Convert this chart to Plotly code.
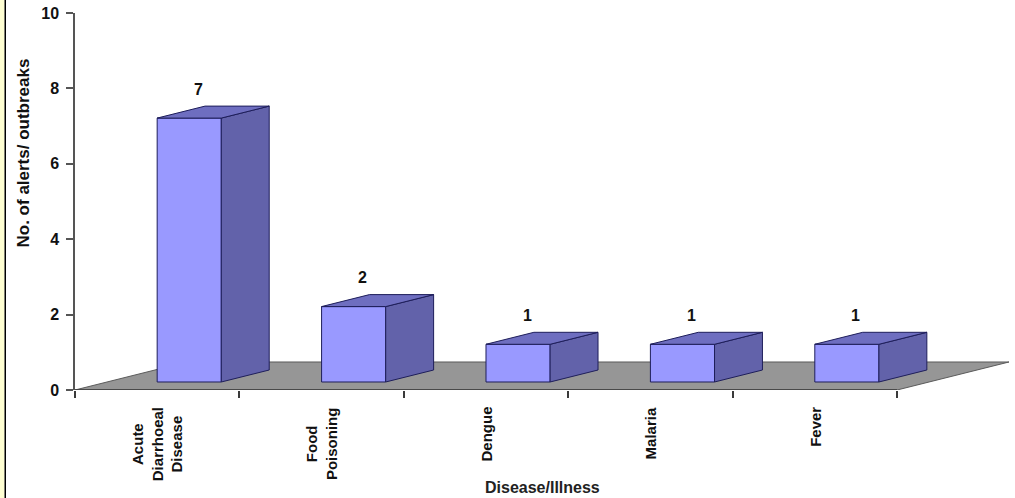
import plotly.graph_objects as go

# ---- data ----
categories = ["Acute<br>Diarrhoeal<br>Disease", "Food<br>Poisoning", "Dengue", "Malaria", "Fever"]
values = [7, 2, 1, 1, 1]
y_ticks = [0, 2, 4, 6, 8, 10]
x_title = "Disease/Illness"
y_title = "No. of alerts/ outbreaks"

# ---- style / 3D geometry constants ----
FONT = "Liberation Sans, Arial, sans-serif"
FRONT = "#9999FF"
SIDE = "#6262AA"
TOP = "#6E6EC0"
EDGE = "#1E1E5A"
FLOOR = "#969696"
D_X, D_Y = 0.681, 0.743      # floor depth offset (data units)
T0, T1 = 0.286, 0.714        # bar front / back depth fractions
HW = 0.195                   # bar half-width
X_MIN, X_MAX = -0.5, 5.187
n = len(values)

fx, fy = T0 * D_X, T0 * D_Y
bx, by = T1 * D_X, T1 * D_Y

fig = go.Figure()

# front faces as bars
fig.add_trace(go.Bar(
    x=[i + fx for i in range(n)], y=values, base=fy, width=2 * HW,
    marker=dict(color=FRONT, line=dict(color=EDGE, width=1)),
    hoverinfo="skip", showlegend=False,
))

# side and top faces
for i, v in enumerate(values):
    xl, xr = i + fx - HW, i + fx + HW
    xbl, xbr = i + bx - HW, i + bx + HW
    top_f, top_b = v + fy, v + by
    fig.add_trace(go.Scatter(
        x=[xr, xbr, xbr, xr, xr], y=[top_f, top_b, by, fy, top_f],
        mode="lines", fill="toself", fillcolor=SIDE,
        line=dict(color=EDGE, width=1), hoverinfo="skip", showlegend=False,
    ))
    fig.add_trace(go.Scatter(
        x=[xl, xr, xbr, xbl, xl], y=[top_f, top_f, top_b, top_b, top_f],
        mode="lines", fill="toself", fillcolor=TOP,
        line=dict(color=EDGE, width=1), hoverinfo="skip", showlegend=False,
    ))

shapes = []
# floor
x0, x1 = -0.5, n - 0.5
shapes.append(dict(
    type="path", xref="x", yref="y", layer="below",
    path=f"M {x0},0 L {x1},0 L {x1 + D_X},{D_Y} L {x0 + D_X},{D_Y} Z",
    fillcolor=FLOOR, line=dict(color="#5a5a5a", width=1),
))
# x axis line (category span only)
shapes.append(dict(type="line", xref="x", yref="y", x0=x0, x1=x1, y0=0, y1=0,
                   line=dict(color="#3a3a3a", width=1.5), layer="above"))
# left border strip
shapes.append(dict(type="rect", xref="paper", yref="paper", xsizemode="pixel", ysizemode="pixel",
                   xanchor=0, yanchor=0, x0=-75, x1=-70.5, y0=-120, y1=420,
                   fillcolor="#FFFFD2", line=dict(width=0), layer="below"))
shapes.append(dict(type="rect", xref="paper", yref="paper", xsizemode="pixel", ysizemode="pixel",
                   xanchor=0, yanchor=0, x0=-70.5, x1=-69, y0=-120, y1=420,
                   fillcolor="#000000", line=dict(width=0), layer="below"))

annotations = []
# value labels
for i, v in enumerate(values):
    annotations.append(dict(
        x=i + 0.25, y=v + 0.98, xref="x", yref="y", text=str(v), showarrow=False,
        xanchor="center", yanchor="middle",
        font=dict(family=FONT, size=16, color="#111111", weight="bold"),
    ))
# category labels
for i, c in enumerate(categories):
    annotations.append(dict(
        x=i, y=0, xref="x", yref="y", text=c, showarrow=False, textangle=-90,
        xanchor="center", yanchor="top", yshift=-15, align="center",
        font=dict(family=FONT, size=15, color="#111111", weight="bold"),
    ))
# axis titles
annotations.append(dict(
    x=0, y=0.5, xref="paper", yref="paper", xshift=-52, yshift=48, text=y_title, showarrow=False,
    textangle=-90, xanchor="center", yanchor="middle",
    font=dict(family=FONT, size=17, color="#111111", weight="bold"),
))
annotations.append(dict(
    x=(542 - 75) / 935, y=0, xref="paper", yref="paper", yshift=-97, text=x_title,
    showarrow=False, xanchor="center", yanchor="middle",
    font=dict(family=FONT, size=16, color="#222222", weight="bold"),
))

fig.update_layout(
    width=1015, height=498,
    margin=dict(l=75, r=5, t=13, b=108),
    paper_bgcolor="white", plot_bgcolor="white",
    showlegend=False, barmode="overlay",
    shapes=shapes, annotations=annotations,
    xaxis=dict(range=[X_MIN, X_MAX], tickvals=[k - 0.5 for k in range(n + 1)],
               ticks="outside", ticklen=7, tickwidth=1.5, tickcolor="#3a3a3a",
               showticklabels=False, showgrid=False, zeroline=False, showline=False,
               fixedrange=True),
    yaxis=dict(range=[0, 10], tickvals=y_ticks, ticks="outside", ticklen=7,
               tickwidth=1.5, tickcolor="#555555", showline=True, linecolor="#555555",
               linewidth=1.5, showgrid=False, zeroline=False, ticklabelstandoff=4,
               tickfont=dict(family=FONT, size=16, color="#111111", weight="bold"),
               fixedrange=True),
)

fig.write_html("out.html", config={"displayModeBar": False},
               post_script="document.body.style.margin='0';document.body.style.overflow='hidden';")
